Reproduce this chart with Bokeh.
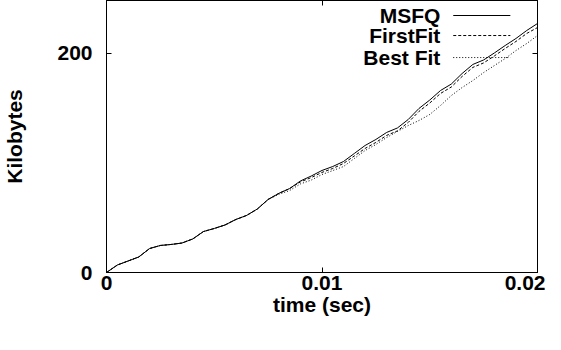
from bokeh.plotting import figure
from bokeh.models import Range1d, FixedTicker, LinearAxis, Label, Arrow
from bokeh.embed import file_html
from bokeh.resources import INLINE

# ---- data ----
time_s = [0.0, 0.0005, 0.001, 0.0015, 0.002, 0.0025, 0.003, 0.0035, 0.004, 0.0045,
          0.005, 0.0055, 0.006, 0.0065, 0.007, 0.0075, 0.008, 0.0085, 0.009, 0.0095,
          0.01, 0.0105, 0.011, 0.0115, 0.012, 0.0125, 0.013, 0.0135, 0.014, 0.0145,
          0.015, 0.0155, 0.016, 0.0165, 0.017, 0.0175, 0.018, 0.0185, 0.019, 0.0195, 0.02]
msfq = [0, 6.8, 10.5, 14.2, 21.9, 24.7, 25.6, 26.9, 30.6, 37.4,
        40.2, 43.4, 48.4, 52.1, 58.0, 66.7, 72.3, 76.7, 83.6, 88.1,
        93.2, 96.8, 101.4, 108.7, 116.0, 121.5, 127.9, 132.0, 139.7, 149.8,
        157.5, 166.2, 172.1, 181.7, 190.0, 194.1, 200.5, 207.3, 213.7, 221.0, 227.4]
first_fit = [0, 6.8, 10.5, 14.2, 21.9, 24.7, 25.6, 26.9, 30.6, 37.4,
             40.2, 43.4, 48.4, 52.1, 58.0, 66.7, 72.3, 76.7, 82.7, 86.7,
             91.4, 95.0, 99.6, 106.4, 113.3, 118.8, 125.2, 129.3, 137.0, 147.1,
             154.8, 163.5, 169.4, 179.0, 187.3, 191.4, 197.8, 204.6, 211.0, 218.3, 223.7]
best_fit = [0, 6.8, 10.5, 14.2, 21.9, 24.7, 25.6, 26.9, 30.6, 37.4,
            40.2, 43.4, 48.4, 52.1, 58.0, 66.7, 71.4, 74.9, 80.9, 84.4,
            89.5, 93.1, 96.8, 104.1, 111.4, 116.9, 123.3, 128.8, 134.2, 138.8,
            144.3, 152.5, 161.6, 168.9, 175.3, 182.6, 189.0, 195.4, 202.7, 209.1, 216.4]

series_names = ["MSFQ", "FirstFit", "Best Fit"]
series_dash = ["solid", "3 2", "1 2"]

x_ticks = [0, 0.01, 0.02]
x_tick_labels = ["0", "0.01", "0.02"]
y_ticks = [0, 200]
y_tick_labels = ["0", "200"]
x_title = "time (sec)"
y_title = "Kilobytes"

FONT = "Liberation Sans"
FS = "21px"

p = figure(width=545, height=318,
           x_range=Range1d(0, 0.02), y_range=Range1d(0, 248.4),
           output_backend="svg", toolbar_location=None,
           min_border_left=99, min_border_right=8,
           min_border_top=0, min_border_bottom=0)

p.xgrid.visible = False
p.ygrid.visible = False
p.outline_line_color = "black"
p.outline_line_alpha = 1
p.outline_line_width = 1
p.background_fill_color = "white"
p.border_fill_color = "white"

for ax in (p.xaxis[0], p.yaxis[0]):
    ax.major_tick_in = 5
    ax.major_tick_out = 0
    ax.minor_tick_line_color = None
    ax.axis_line_color = "black"
    ax.major_tick_line_color = "black"
    ax.major_label_text_font = FONT
    ax.major_label_text_font_size = FS
    ax.major_label_text_font_style = "bold"
    ax.major_label_text_color = "black"
    ax.axis_label_text_font = FONT
    ax.axis_label_text_font_size = FS
    ax.axis_label_text_font_style = "bold"
    ax.axis_label_text_color = "black"

p.xaxis[0].ticker = FixedTicker(ticks=x_ticks)
p.xaxis[0].major_label_overrides = {t: l for t, l in zip(x_ticks, x_tick_labels)}
p.xaxis[0].major_label_standoff = 3
p.xaxis[0].axis_label = x_title
p.xaxis[0].axis_label_standoff = 0

p.yaxis[0].ticker = FixedTicker(ticks=y_ticks)
p.yaxis[0].major_label_overrides = {t: l for t, l in zip(y_ticks, y_tick_labels)}
p.yaxis[0].major_label_standoff = 14
p.yaxis[0].axis_label = y_title
p.yaxis[0].axis_label_standoff = 28

# mirrored inward ticks on top and right
right_ax = LinearAxis(ticker=FixedTicker(ticks=y_ticks), major_tick_in=5, major_tick_out=0,
                      minor_tick_line_color=None, major_label_text_font_size="0px",
                      major_label_standoff=0, axis_label_standoff=0, axis_line_color="black")
right_ax.major_label_overrides = {t: "" for t in y_ticks}
top_ax = LinearAxis(ticker=FixedTicker(ticks=x_ticks), major_tick_in=5, major_tick_out=0,
                    minor_tick_line_color=None, major_label_text_font_size="0px",
                    major_label_standoff=0, axis_label_standoff=0, axis_line_color="black")
top_ax.major_label_overrides = {t: "" for t in x_ticks}
p.add_layout(right_ax, "right")
p.add_layout(top_ax, "above")

# series
for vals, dash in zip([msfq, first_fit, best_fit], series_dash):
    p.line(time_s, vals, line_color="black", line_width=1, line_dash=dash)

# key (text at left, sample line at right, as in gnuplot)
key_text_x = 0.01549
key_line_x0 = 0.01609
key_line_x1 = 0.01874
key_y = [234.7, 216.4, 196.3]
for name, dash, ky in zip(series_names, series_dash, key_y):
    p.add_layout(Label(x=key_text_x, y=ky, text=name, text_align="right",
                       text_baseline="middle", text_font=FONT, text_font_size=FS,
                       text_font_style="bold", text_color="black"))
    p.add_layout(Arrow(end=None, x_start=key_line_x0, x_end=key_line_x1,
                       y_start=ky, y_end=ky, line_color="black", line_width=1,
                       line_dash=dash))

open("out.html", "w").write(file_html(p, INLINE))
